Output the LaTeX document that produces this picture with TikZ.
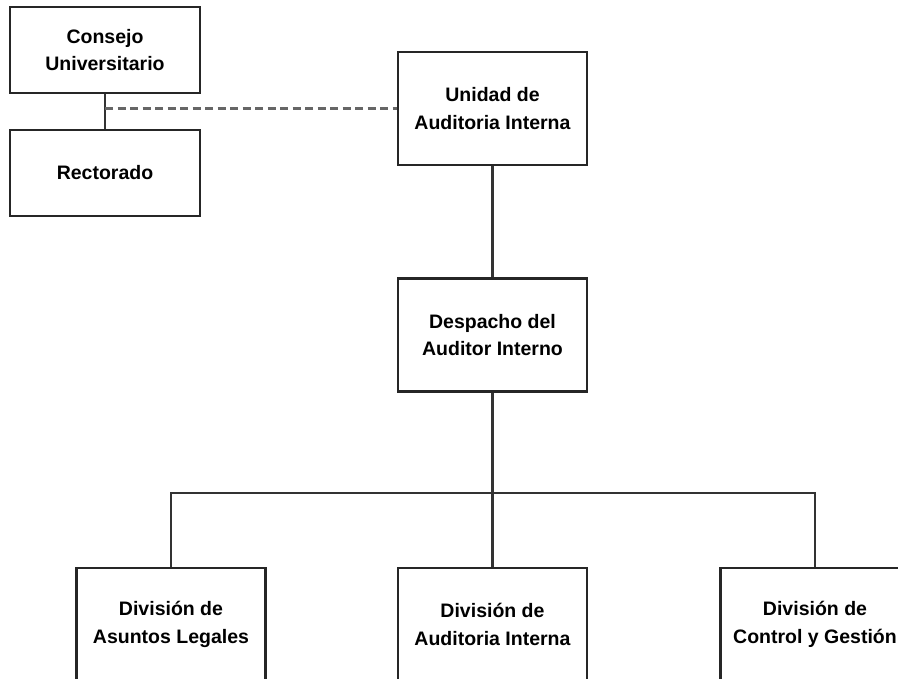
\documentclass[tikz,border=0pt]{standalone}
\usepackage{fontspec}
\setmainfont{Liberation Sans}
\begin{document}
\begin{tikzpicture}[x=1pt,y=-1pt,
  box/.style={draw=black!85,line width=2.4pt,fill=white,inner sep=0pt,
    align=center,font=\bfseries\fontsize{19.5}{27.5}\selectfont},
  smallbox/.style={box,minimum width=190pt,minimum height=86pt},
  bigbox/.style={box,minimum width=189pt,minimum height=113pt},
  link/.style={draw=black!80,line width=2.2pt},
  dotlink/.style={draw=black!60,line width=2.6pt,dash pattern=on 8pt off 4.5pt}]
\useasboundingbox (0,0) rectangle (898,679);
\clip (0,0) rectangle (898,679);
\fill[white] (0,0) rectangle (898,679);
\node[smallbox] (cu) at (105,50) {Consejo\\Universitario};
\node[smallbox] (rec) at (105,173) {Rectorado};
\node[bigbox] (uai) at (492.5,108.5) {Unidad de\\Auditoria Interna};
\node[bigbox] (dai) at (492.5,335) {Despacho del\\Auditor Interno};
\node[bigbox] (dal) at (171,624.5) {División de\\Asuntos Legales};
\node[bigbox] (dmid) at (492.5,624.5) {División de\\Auditoria Interna};
\node[bigbox] (dcg) at (815,624.5) {División de\\Control y Gestión};
\coordinate (j) at (cu.south |- uai.west);
\coordinate (bus) at (492.5,493);
\draw[link] (cu.south) -- (rec.north);
\draw[dotlink] (j) -- (uai.west);
\draw[link] (uai.south) -- (dai.north);
\draw[link] (dai.south) -- (dmid.north);
\draw[link] (dal.north) |- (bus) -| (dcg.north);
\end{tikzpicture}
\end{document}
